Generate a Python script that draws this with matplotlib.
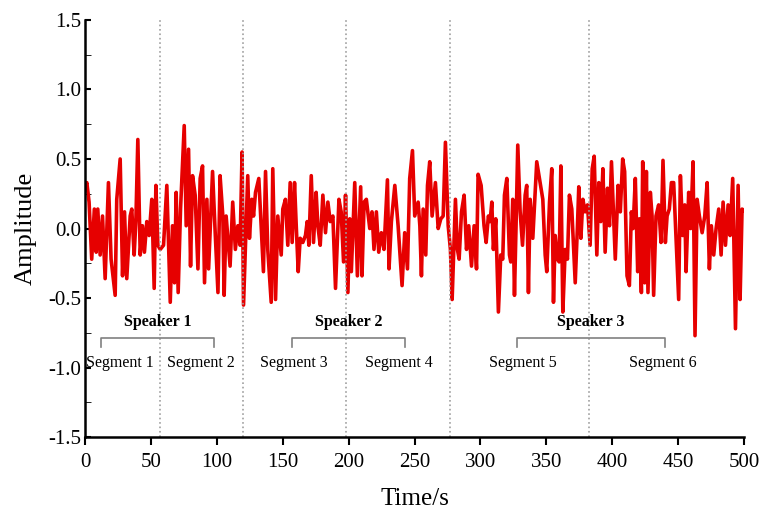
import numpy as np
import matplotlib.pyplot as plt

plt.rcParams['font.family'] = ['Liberation Serif', 'DejaVu Serif']

# signal (time in s, amplitude)
t = [0, 1.3, 3, 5, 7, 8.4, 9.6, 11.4, 13.2, 15.2, 17.7, 19.7, 22.8, 24, 26.6, 28.4,
     29.9, 31.6, 34.2, 35.4, 37.2, 38.5, 40, 41.8, 43.5, 45, 46.8, 48.6, 50.6, 52.4,
     53.7, 55.2, 57, 59.5, 62, 64.6, 66.3, 67.8, 69.1, 70.6, 72.4, 75.2, 76.7, 78.5,
     80, 81.5, 83.5, 85.6, 87.3, 89.1, 90.6, 92.4, 93.7, 96.7, 98.7, 100.8, 102.4,
     104.5, 105.5, 107, 110, 112, 114, 115.9, 117.6, 119.1, 120.2, 123.4, 124.7,
     126.5, 127.8, 129.3, 131.8, 133.6, 135.3, 136.9, 138.6, 141.2, 142.4, 144.5,
     146.2, 148.8, 150, 152, 153.8, 155.6, 157.1, 158.9, 160.2, 161.7, 163.2, 165.2,
     167.2, 168.5, 169.8, 171.6, 173.3, 175.3, 176.6, 178.4, 180.4, 182.4, 184.2,
     186, 188, 190, 192.6, 194.3, 196.1, 197.6, 199.4, 200.8, 202, 204.6, 206.6,
     209.1, 210.1, 211.7, 213.4, 216, 217.7, 219.2, 221, 222.8, 224.8, 226.8, 229.4,
     230.6, 232.4, 235, 237.5, 240.5, 242.5, 244.6, 246.3, 248.4, 250.1, 252.7, 254,
     255.2, 256.5, 258.5, 259.8, 261.5, 263.3, 265.8, 267.9, 269.9, 271.7, 273.4,
     275.5, 277.2, 278.5, 281, 282.5, 283.8, 285.6, 287.6, 289.4, 291.1, 293.2,
     295.2, 297, 298.2, 300.5, 302.7, 304.3, 306, 307.3, 308.6, 309.8, 311.6, 313.6,
     315.4, 316.9, 318.2, 320, 322, 323, 324.5, 325.8, 327, 328.3, 330.1, 331.9,
     333.9, 335.1, 336.4, 337.7, 339.7, 342.7, 345.3, 347.3, 349.1, 350.3, 352.4,
     354.1, 355.4, 356.7, 358.4, 359.7, 361, 362.5, 364.3, 366, 367.5, 369.3, 371.9,
     373.6, 374.6, 376.2, 377.7, 379.4, 381.2, 383.2, 384.8, 386.3, 388.3, 389.8,
     391.3, 392.9, 394.6, 396.4, 397.9, 399.4, 402.3, 404.4, 406.1, 407.9,
     409.4, 411.2, 413, 414.5, 415.8, 417.5, 419.3, 420.6, 422.1, 423.1, 424.6,
     425.9, 427.1, 428.9, 430.2, 431.4, 433.2, 435.2, 437, 438.5, 440.3, 441.6,
     443.3, 444.9, 446.6, 448.4, 450.4, 451.7, 453.5, 455, 456, 458, 459.5, 461.3,
     462.8, 464.4, 466.1, 468.2, 470.2, 472, 473.7, 475.2, 477, 478.8, 480.8, 482.6,
     484.1, 485.9, 487.9, 489.4, 491.4, 493.5, 495.5, 497, 498.5, 500]
amp = [0.30, 0.33, 0.19, -0.22, 0.14, -0.17, 0.14, -0.19, 0.09, -0.36, 0.33, -0.22,
       -0.48, 0.21, 0.50, -0.34, 0.12, -0.36, 0.09, 0.14, -0.19, 0.05, 0.64, -0.19,
       0.02, -0.17, 0.05, -0.05, 0.21, -0.43, 0.31, -0.12, -0.15, -0.12, 0.31, -0.53,
       0.02, -0.39, 0.26, -0.46, 0.14, 0.74, 0.02, 0.57, -0.27, 0.38, 0.24, -0.29,
       0.36, 0.45, -0.39, 0.21, -0.29, 0.41, -0.03, -0.46, 0.38, 0.09, -0.48, 0.09,
       -0.27, 0.19, -0.15, 0.02, -0.12, 0.55, -0.55, 0.38, -0.07, 0.21, 0.09, 0.26,
       0.36, 0.02, -0.31, 0.41, -0.15, -0.53, 0.43, -0.51, 0.09, -0.19, 0.14, 0.21,
       -0.12, 0.33, -0.10, 0.33, 0.02, -0.31, -0.07, -0.10, -0.05, 0.05, -0.12, 0.38,
       -0.10, 0.26, 0.02, -0.12, 0.24, -0.03, 0.19, 0.05, 0.09, -0.43, 0.21, 0.12,
       -0.24, 0.24, -0.46, 0.07, -0.31, 0.33, -0.34, 0.30, -0.34, 0.19, 0.21, 0.0,
       0.12, -0.15, 0.12, -0.17, -0.03, -0.15, 0.35, -0.29, 0.05, 0.31, 0.02, -0.41,
       -0.03, -0.29, 0.36, 0.56, 0.09, 0.19, 0.02, -0.34, 0.14, -0.19, 0.31, 0.48,
       0.09, 0.33, 0.0, 0.07, 0.09, 0.62, 0.02, -0.15, -0.51, 0.21, -0.15, -0.22,
       0.12, 0.24, -0.15, 0.02, -0.27, 0.02, -0.29, 0.39, 0.31, 0.02, -0.10, 0.09,
       0.05, 0.19, -0.15, 0.07, -0.60, -0.19, -0.22, 0.24, 0.36, -0.19, -0.24, 0.21,
       -0.48, 0.02, 0.60, 0.12, -0.12, 0.24, 0.31, -0.46, 0.21, -0.07, 0.48, 0.33,
       0.21, -0.19, -0.31, 0.19, 0.43, -0.53, -0.05, -0.22, -0.24, 0.45, -0.60, -0.15,
       -0.22, 0.24, 0.14, -0.39, 0.02, 0.30, -0.07, 0.21, 0.12, 0.17, -0.12, 0.43,
       0.52, -0.19, 0.33, 0.05, 0.43, -0.17, 0.29, 0.02, 0.48, -0.22, 0.31, 0.12,
       0.50, 0.41, -0.34, -0.41, 0.12, 0.0, 0.36, -0.31, 0.07, -0.46, 0.48, -0.39,
       0.41, -0.46, 0.26, 0.09, -0.48, 0.09, 0.17, -0.10, 0.49, -0.10, 0.09, 0.14,
       0.33, 0.33, -0.07, -0.51, 0.38, -0.05, 0.17, -0.31, 0.26, 0.0, 0.48, -0.77,
       0.21, 0.09, -0.03, 0.09, 0.33, -0.29, 0.02, -0.19, 0.0, 0.14, -0.19, 0.19,
       -0.12, 0.17, -0.05, 0.36, -0.72, 0.31, -0.51, 0.14, 0.13]

bounds = [57, 120, 198, 277, 382]
speakers = ['Speaker 1', 'Speaker 2', 'Speaker 3']
spk_x = [(12, 98), (157, 243), (328, 440)]
segments = ['Segment 1', 'Segment 2', 'Segment 3', 'Segment 4', 'Segment 5', 'Segment 6']
seg_x = [26, 88, 158, 238, 332, 438]

fig = plt.figure(figsize=(7.6, 5.09), dpi=100)
ax = fig.add_axes([0.112, 0.141, 0.867, 0.82])

ax.plot(t, amp, color='#e60000', lw=2.6)

for b in bounds:
    ax.axvline(b, color='#a0a0a0', ls=':', lw=1.2)

for name, (a, b) in zip(speakers, spk_x):
    ax.plot([a, a, b, b], [-0.85, -0.79, -0.79, -0.85], color='#808080', lw=1.2)
    ax.text((a + b) / 2, -0.67, name, ha='center', va='center',
            fontsize=11.5, fontweight='bold')

for name, x in zip(segments, seg_x):
    ax.text(x, -0.97, name, ha='center', va='center', fontsize=11.5)

ax.set_xlim(0, 500)
ax.set_ylim(-1.5, 1.5)
ax.set_xticks(np.arange(0, 501, 50))
ax.set_yticks(np.arange(-1.5, 1.51, 0.5))
ax.set_yticks(np.arange(-1.25, 1.5, 0.5), minor=True)
ax.yaxis.set_major_formatter(plt.FormatStrFormatter('%.1f'))
ax.tick_params(labelsize=15, width=1.5)
ax.tick_params(axis='x', direction='out', length=6, pad=5)
ax.tick_params(axis='y', which='both', direction='in', length=4.5, pad=3)
for s in ['top', 'right']:
    ax.spines[s].set_visible(False)
for s in ['left', 'bottom']:
    ax.spines[s].set_linewidth(1.8)

ax.set_xlabel('Time/s', fontsize=18, labelpad=12)
ax.set_ylabel('Amplitude', fontsize=19, labelpad=8)

plt.savefig('out.png', dpi=100)
